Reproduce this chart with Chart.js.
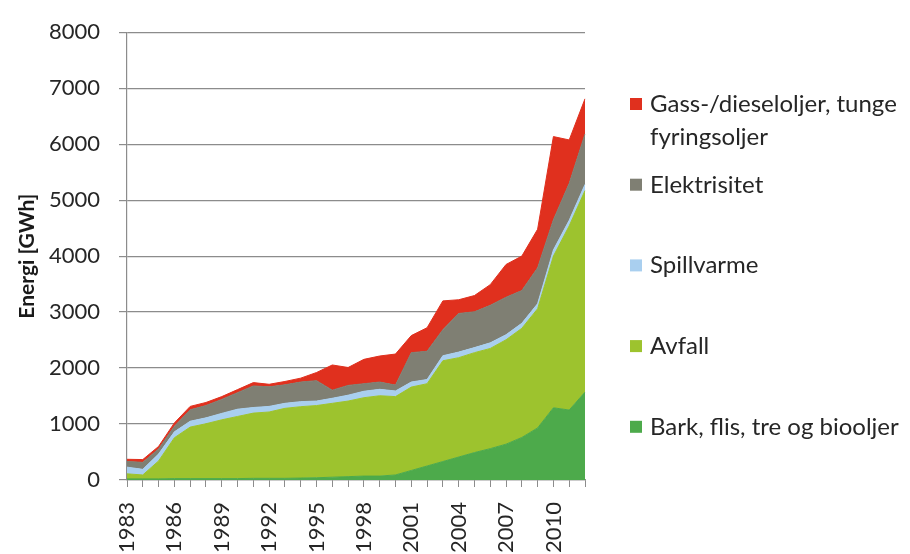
<!DOCTYPE html>
<html lang="no">
<head>
<meta charset="UTF-8">
<title>Energi til fjernvarme 1983-2012</title>
<script src="https://cdn.jsdelivr.net/npm/chart.js@4.4.1/dist/chart.umd.min.js"></script>
<style>
  html, body { margin: 0; padding: 0; background: #fff; }
  .chart-box { width: 910px; height: 554px; }
</style>
</head>
<body>
<div class="chart-box"><canvas id="energyChart" width="910" height="554"></canvas></div>
<script>
// år langs x-aksen
const years = ['1983', '1984', '1985', '1986', '1987', '1988', '1989', '1990', '1991', '1992',
               '1993', '1994', '1995', '1996', '1997', '1998', '1999', '2000', '2001', '2002',
               '2003', '2004', '2005', '2006', '2007', '2008', '2009', '2010', '2011', '2012'];

// GWh per energikilde (stablet nedenfra og opp)
const bark = [20, 20, 20, 25, 25, 25, 25, 25, 30, 30, 30, 35, 40, 50, 60, 70, 70, 90, 170, 250,
              330, 410, 490, 560, 640, 760, 930, 1290, 1250, 1570];
const avfall = [90, 70, 320, 730, 920, 980, 1050, 1110, 1165, 1185, 1250, 1275, 1290, 1320, 1350, 1400, 1435, 1400, 1490, 1470,
                1800, 1775, 1785, 1790, 1865, 1950, 2130, 2710, 3290, 3600];
const spillvarme = [120, 100, 125, 105, 105, 105, 115, 130, 100, 100, 90, 90, 80, 90, 105, 115, 115, 100, 90, 75,
                    90, 100, 90, 100, 90, 90, 90, 110, 100, 110];
const elektrisitet = [100, 125, 90, 100, 205, 220, 250, 295, 385, 350, 330, 350, 365, 145, 175, 135, 130, 105, 525, 505,
                      465, 690, 640, 670, 670, 585, 640, 540, 660, 900];
const gass = [40, 50, 45, 60, 60, 55, 50, 55, 60, 45, 60, 70, 145, 450, 320, 435, 465, 555, 305, 420,
              515, 245, 290, 370, 585, 615, 690, 1485, 775, 630];

const sources = [
  { label: 'Bark, flis, tre og biooljer', data: bark, color: '#4daa4b' },
  { label: 'Avfall', data: avfall, color: '#9dc32e' },
  { label: 'Spillvarme', data: spillvarme, color: '#a9cfef' },
  { label: 'Elektrisitet', data: elektrisitet, color: '#7f7f73' },
  { label: 'Gass-/dieseloljer, tunge fyringsoljer', data: gass, color: '#e0301e' }
];

const FONT = 'Lato, "Open Sans", sans-serif';

// bryter en tekst i linjer som ikke er bredere enn maxW
function wrapText(ctx, text, maxW) {
  const words = text.split(' ');
  const lines = [];
  let line = '';
  words.forEach(function(w) {
    const test = line ? line + ' ' + w : w;
    if (ctx.measureText(test).width > maxW && line) {
      lines.push(line);
      line = w;
    } else {
      line = test;
    }
  });
  if (line) lines.push(line);
  return lines;
}

// forklaring til høyre, øverste serie først
const sideLegend = {
  id: 'sideLegend',
  afterDraw(chart) {
    const ctx = chart.ctx;
    const sets = chart.data.datasets.slice().reverse();
    const x = chart.chartArea.right + 45;
    ctx.save();
    ctx.font = '24px ' + FONT;
    ctx.textBaseline = 'alphabetic';
    sets.forEach(function(ds, k) {
      const base = 112 + k * 80.7;
      const lines = wrapText(ctx, ds.label, 262);
      ctx.fillStyle = ds.backgroundColor;
      ctx.fillRect(x, base - 14, 12, 12);
      ctx.fillStyle = '#262626';
      lines.forEach(function(ln, i) {
        ctx.fillText(ln, x + 20, base + i * 33);
      });
    });
    ctx.restore();
  }
};

const ctx = document.getElementById('energyChart').getContext('2d');
new Chart(ctx, {
  type: 'line',
  data: {
    labels: years,
    datasets: sources.map(function(s, i) {
      return {
        label: s.label,
        data: s.data,
        backgroundColor: s.color,
        borderColor: s.color,
        borderWidth: 1,
        pointRadius: 0,
        tension: 0,
        fill: i === 0 ? 'origin' : '-1'
      };
    })
  },
  options: {
    responsive: false,
    animation: false,
    devicePixelRatio: 1,
    layout: { padding: { left: 0, right: 325, top: 23, bottom: 0 } },
    plugins: {
      legend: { display: false },
      tooltip: { enabled: false }
    },
    scales: {
      x: {
        offset: false,
        grid: { drawOnChartArea: false, drawTicks: true, tickLength: 7, color: '#8c8c8c' },
        border: { color: '#8c8c8c', width: 1.2 },
        ticks: {
          autoSkip: false,
          minRotation: 90,
          maxRotation: 90,
          padding: 15,
          color: '#262626',
          font: { family: FONT, size: 22 },
          callback: function(val, i) {
            return i % 3 === 0 ? this.getLabelForValue(val) : '';
          }
        },
        afterFit: function(scale) { scale.height = 74; }
      },
      y: {
        stacked: true,
        min: 0,
        max: 8000,
        ticks: {
          stepSize: 1000,
          padding: 19,
          color: '#262626',
          font: { family: FONT, size: 22 },
          callback: function(v) { return String(v); }
        },
        grid: { color: '#8c8c8c', lineWidth: 1.2, tickLength: 8 },
        border: { color: '#8c8c8c', width: 1.2 },
        title: {
          display: true,
          text: 'Energi [GWh]',
          color: '#1a1a1a',
          font: { family: FONT, size: 21, weight: 'bold' },
          padding: { top: 15, bottom: 0 }
        },
        afterFit: function(scale) { scale.width = 127; }
      }
    }
  },
  plugins: [sideLegend]
});
</script>
</body>
</html>
